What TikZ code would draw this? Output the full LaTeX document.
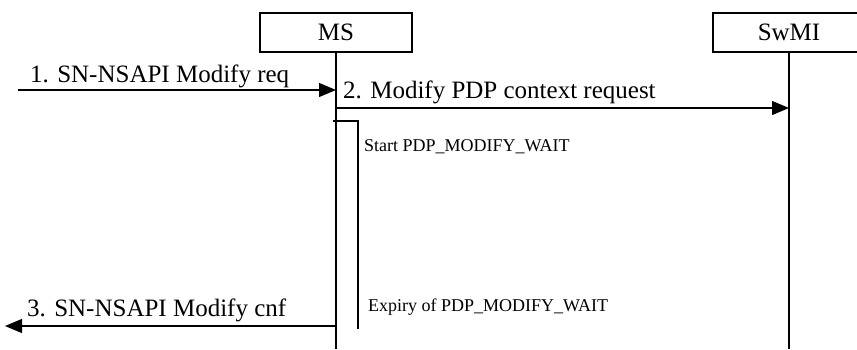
\documentclass[tikz,border=0pt]{standalone}
\usepackage{fontspec}
\setmainfont{Liberation Serif}
\usetikzlibrary{arrows.meta,calc}
\definecolor{LineBlack}{HTML}{000000}
\newcommand{\bigtxt}{\fontsize{25}{29}\selectfont}
\newcommand{\smalltxt}{\fontsize{18}{21}\selectfont}

\begin{document}
\begin{tikzpicture}[x=1pt, y=-1pt,
    actor/.style={draw=LineBlack, line width=1.2pt, minimum width=152pt, minimum height=39pt, inner sep=0pt, font=\bigtxt},
    msg/.style={draw=LineBlack, line width=1.2pt, -{Triangle[length=17pt,width=14pt]}},
    lbl/.style={anchor=base west, inner sep=0pt, font=\bigtxt},
    tlbl/.style={anchor=base west, inner sep=0pt, font=\smalltxt}]
  \useasboundingbox (0,0) rectangle (857,349);

  % Entities
  \node[actor] (ms) at (336,32.5) {MS};
  \node[actor] (swmi) at (789,32.5) {SwMI};

  % Lifelines
  \coordinate (msend) at (336,349);
  \coordinate (swmiend) at (789,349);
  \draw[line width=1.2pt] (ms.south) -- (msend);
  \draw[line width=1.2pt] (swmi.south) -- (swmiend);

  % 1. from upper layer to MS
  \coordinate (reqin) at (18,90);
  \draw[msg] (reqin) -- (reqin -| ms);
  \node[lbl] (reqlbl) at (30,82) {1. SN-NSAPI Modify req};

  % 2. MS to SwMI
  \coordinate (modout) at (336,108);
  \draw[msg] (modout) -- (modout -| swmi);
  \node[lbl] (modlbl) at (343,98) {2. Modify PDP context request};

  % Timer
  \coordinate (tstart) at (333,121);
  \coordinate (tcorner) at (358,121);
  \coordinate (texp) at (358,329);
  \draw[line width=1.2pt] (tstart) -- (tcorner) -- (texp);
  \node[tlbl] (startlbl) at (364,151) {Start PDP\_MODIFY\_WAIT};
  \node[tlbl] (explbl) at (368,311) {Expiry of PDP\_MODIFY\_WAIT};

  % 3. MS back to upper layer
  \coordinate (cnfout) at (5,326);
  \draw[msg] (cnfout -| ms) -- (cnfout);
  \node[lbl] (cnflbl) at (27,316) {3. SN-NSAPI Modify cnf};
\end{tikzpicture}
\end{document}
